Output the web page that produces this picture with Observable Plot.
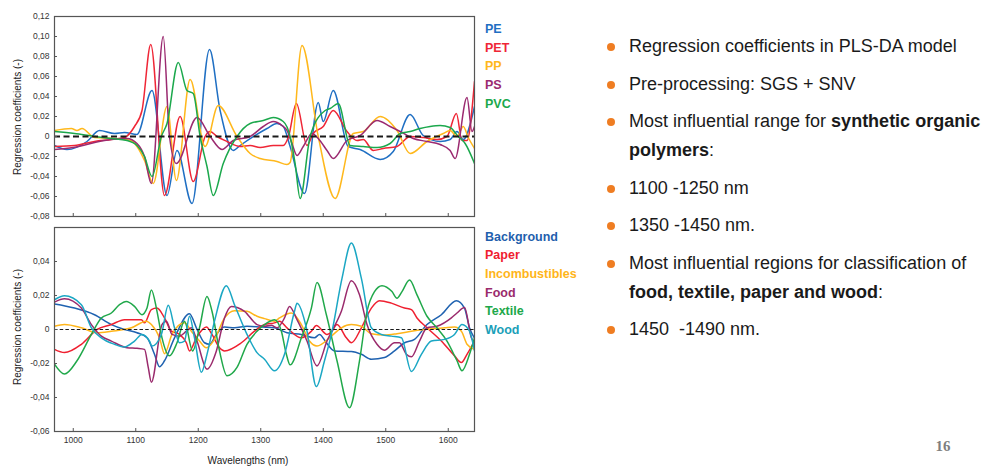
<!DOCTYPE html>
<html>
<head>
<meta charset="utf-8">
<script src="https://cdn.jsdelivr.net/npm/d3@7"></script>
<script src="https://cdn.jsdelivr.net/npm/@observablehq/plot@0.6"></script>
<style>
  html, body { margin: 0; padding: 0; background: #fff; }
  #wrap { position: relative; width: 990px; height: 467px; background: #fff; overflow: hidden; font-family: "Liberation Sans", Arial, sans-serif; }
  .panel { position: absolute; left: 0; }
  .ytitle { position: absolute; left: 17px; transform: translate(-50%, -50%) rotate(-90deg); white-space: nowrap; font-size: 10px; color: #222; }
  .xtitle { position: absolute; left: 248px; top: 460px; transform: translate(-50%, -50%); white-space: nowrap; font-size: 10px; color: #222; }
  .legend { position: absolute; left: 485px; font-weight: bold; font-size: 12.5px; line-height: 18.7px; white-space: nowrap; }
  #bullets { position: absolute; left: 629px; top: 32px; font-size: 18px; color: #1a1a1a; line-height: 29px; }
  #bullets div { position: relative; margin-bottom: 8.5px; white-space: nowrap; }
  #bullets div::before { content: ""; position: absolute; left: -22px; top: 11px; width: 8px; height: 8px; border-radius: 50%; background: #ef7d22; }
  #page { position: absolute; left: 943px; top: 446px; transform: translate(-50%, -50%); font-family: "Liberation Serif", "DejaVu Serif", serif; font-weight: bold; font-size: 15px; color: #7f7f7f; }
</style>
</head>
<body>
<div id="wrap">
  <div id="top" class="panel" style="top:0px"></div>
  <div id="bot" class="panel" style="top:211px"></div>
  <div class="ytitle" style="top:117px">Regression coefficients (-)</div>
  <div class="ytitle" style="top:327px">Regression coefficients (-)</div>
  <div class="xtitle">Wavelengths (nm)</div>
  <div id="legTop" class="legend" style="top:20px"></div>
  <div id="legBot" class="legend" style="top:227.5px"></div>
  <div id="bullets"></div>
  <div id="page"></div>
</div>
<script>
// ---------- x axis ----------
const xDomain = [970, 1642];
const xTicks = [1000, 1100, 1200, 1300, 1400, 1500, 1600];
const xTickLabels = ["1000", "1100", "1200", "1300", "1400", "1500", "1600"];
const xTitle = "Wavelengths (nm)";

// ---------- top panel: synthetic polymers ----------
const topNames = ["PE", "PET", "PP", "PS", "PVC"];
const topColors = ["#1f6fc3", "#ef2636", "#ffb81c", "#9b2a70", "#1ba84c"];
const topTicks = [-0.08, -0.06, -0.04, -0.02, 0, 0.02, 0.04, 0.06, 0.08, 0.10, 0.12];
const topTickLabels = ["-0,08", "-0,06", "-0,04", "-0,02", "0", "0,02", "0,04", "0,06", "0,08", "0,10", "0,12"];

const PE = [[970,-0.009],[990,-0.013],[1022,-0.005],[1042,0.006],[1066,0.003],[1082,0.004],[1102,0.002],[1126,0.046],[1150,-0.059],[1166,-0.014],[1190,-0.067],[1218,0.087],[1235,0.026],[1256,-0.014],[1267,-0.009],[1310,0.008],[1326,0.013],[1336,0.010],[1347,-0.010],[1370,-0.057],[1392,0.034],[1400,0.015],[1416,0.046],[1440,-0.010],[1459,-0.013],[1491,-0.023],[1512,-0.015],[1539,0.022],[1560,0.001],[1587,-0.005],[1603,-0.003],[1614,0.005],[1624,-0.003],[1642,0.030]];
const PET = [[970,-0.010],[1002,-0.009],[1034,-0.005],[1061,-0.003],[1082,-0.001],[1098,0.010],[1110,0.026],[1124,0.092],[1146,-0.059],[1171,0.020],[1192,-0.045],[1211,0],[1219,0.005],[1230,0],[1246,-0.005],[1267,-0.010],[1283,-0.009],[1299,-0.011],[1320,-0.009],[1336,-0.009],[1344,-0.001],[1357,0.033],[1374,-0.009],[1384,0.003],[1400,0.010],[1416,0.026],[1438,0.005],[1454,-0.004],[1464,-0.003],[1480,-0.014],[1496,-0.012],[1518,-0.010],[1539,0],[1560,-0.001],[1582,-0.003],[1598,0],[1613,0.023],[1622,-0.004],[1630,-0.004],[1642,0.055]];
const PP = [[970,0.006],[997,0.008],[1006,0.006],[1014,0.008],[1034,-0.001],[1066,-0.002],[1093,-0.004],[1102,-0.010],[1114,-0.024],[1128,-0.047],[1150,0.030],[1165,-0.044],[1187,0.057],[1211,-0.010],[1232,0.031],[1262,0],[1283,-0.017],[1299,-0.022],[1326,-0.025],[1342,-0.028],[1347,-0.026],[1366,0.091],[1392,0],[1419,-0.062],[1448,0.003],[1464,0.005],[1491,0.020],[1518,0.006],[1539,-0.017],[1566,-0.005],[1592,0.003],[1603,0.006],[1614,0],[1624,0.010],[1632,-0.001],[1642,-0.012]];
const PS = [[970,-0.013],[1000,-0.011],[1050,-0.004],[1086,-0.002],[1102,-0.007],[1114,-0.020],[1125,-0.047],[1144,0.100],[1154,0],[1165,-0.027],[1198,0.019],[1219,0],[1238,-0.013],[1256,-0.004],[1283,0],[1304,0.010],[1320,0.015],[1334,0.011],[1342,0.006],[1350,-0.007],[1358,-0.019],[1368,-0.010],[1382,0.003],[1392,-0.002],[1406,-0.014],[1416,-0.022],[1438,-0.004],[1459,0.001],[1486,0.016],[1507,0.010],[1523,0.005],[1544,-0.002],[1566,-0.005],[1587,-0.008],[1603,-0.014],[1611,-0.022],[1630,0.039],[1638,0.005],[1642,0.010]];
const PVC = [[970,0.005],[1002,0.003],[1034,0],[1061,-0.002],[1086,-0.004],[1102,-0.009],[1114,-0.020],[1126,-0.040],[1141,0],[1150,0.013],[1168,0.074],[1182,0.046],[1192,0.043],[1203,0],[1214,-0.030],[1224,-0.059],[1240,-0.027],[1262,0],[1283,0.013],[1304,0.016],[1320,0.019],[1336,0.015],[1347,0],[1355,-0.027],[1363,-0.062],[1379,0],[1403,0.026],[1411,0.028],[1424,0.033],[1443,-0.009],[1464,-0.010],[1486,-0.011],[1507,-0.007],[1523,0.003],[1539,0.005],[1555,0.008],[1571,0.010],[1587,0.011],[1603,0.009],[1616,0],[1627,-0.007],[1642,-0.027]];

// ---------- bottom panel: other waste classes ----------
const botNames = ["Background", "Paper", "Incombustibles", "Food", "Textile", "Wood"];
const botColors = ["#1f62b0", "#ef2030", "#ffb51a", "#9a2a6c", "#20a84a", "#1ba7c4"];
const botTicks = [-0.06, -0.04, -0.02, 0, 0.02, 0.04];
const botTickLabels = ["-0,06", "-0,04", "-0,02", "0", "0,02", "0,04"];

const Background = [[970,0.015],[1002,0.0126],[1034,0.0087],[1061,0.0029],[1082,0],[1102,-0.0019],[1118,-0.0049],[1130,-0.0146],[1138,-0.0219],[1146,-0.0184],[1162,-0.0049],[1186,0.0093],[1197,0.001],[1210,-0.0078],[1218,-0.0087],[1229,-0.0029],[1242,0.0014],[1258,0.001],[1278,0.0019],[1301,0.0014],[1322,0.001],[1342,-0.0019],[1365,-0.0029],[1386,-0.0049],[1394,-0.0029],[1405,-0.0078],[1418,-0.0126],[1445,-0.013],[1461,-0.0146],[1477,-0.0175],[1498,-0.0165],[1514,-0.0126],[1530,-0.0078],[1546,-0.0058],[1566,0.0029],[1589,0.0087],[1613,0.0169],[1626,0.0126],[1634,0.001],[1642,-0.005]];
const Paper = [[970,-0.0117],[986,-0.0136],[1013,-0.0087],[1038,0],[1061,0.0029],[1082,0.0058],[1109,0.0058],[1114,0.0039],[1125,0.0117],[1134,0.0126],[1146,0.0068],[1157,-0.001],[1170,-0.0029],[1181,-0.0078],[1186,-0.0126],[1197,-0.0049],[1213,0.0014],[1222,-0.0029],[1234,-0.0107],[1242,-0.0126],[1269,-0.0078],[1290,-0.001],[1306,0.0029],[1322,0.0039],[1330,0.0049],[1342,0.001],[1365,-0.0049],[1381,-0.001],[1389,0.0023],[1406,-0.0029],[1414,-0.001],[1422,0.0029],[1437,-0.0049],[1445,-0.0078],[1461,0.001],[1477,0.0126],[1490,0.0169],[1509,0.0155],[1530,0.0126],[1541,0.0117],[1550,0.0068],[1566,0.001],[1589,-0.0068],[1610,-0.0155],[1621,-0.0194],[1630,-0.0146],[1642,-0.0068]];
const Incombustibles = [[970,0.0019],[986,0.0029],[1013,0.001],[1038,-0.0019],[1061,-0.001],[1093,0.001],[1117,0.0049],[1125,0.0029],[1138,-0.0049],[1146,-0.0142],[1158,-0.0029],[1178,0.0039],[1189,-0.001],[1202,-0.0068],[1213,-0.0107],[1226,-0.0058],[1242,0.0068],[1258,0.0111],[1278,0.0107],[1294,0.0078],[1306,0.0064],[1322,0.0049],[1330,0.0068],[1349,0.0097],[1365,0.0029],[1378,-0.0068],[1390,-0.0097],[1413,-0.0039],[1429,0.001],[1445,0.0029],[1461,0.0019],[1477,-0.0025],[1498,-0.0033],[1518,-0.0025],[1541,-0.001],[1562,0],[1594,0.001],[1610,0.0014],[1621,-0.001],[1630,-0.0087],[1642,-0.0117]];
const Food = [[970,0.0161],[986,0.0181],[1013,0.0126],[1029,0.0029],[1045,-0.0039],[1061,-0.0068],[1086,-0.0107],[1102,-0.0111],[1114,-0.0117],[1120,-0.0223],[1125,-0.031],[1142,0.0029],[1149,0.0049],[1158,-0.0029],[1170,-0.0039],[1181,-0.001],[1189,0.001],[1198,-0.0068],[1214,-0.0233],[1229,-0.0126],[1242,0.0068],[1253,0.0136],[1274,0.0107],[1294,0.0029],[1306,0.0019],[1317,0.0025],[1326,0.001],[1338,0.0068],[1346,0.0136],[1358,0.0058],[1374,-0.0068],[1390,-0.0214],[1406,-0.0068],[1429,0.0107],[1445,0.0287],[1458,0.0204],[1470,0.0029],[1486,-0.0087],[1498,-0.0122],[1514,-0.0078],[1522,-0.0078],[1533,-0.0146],[1541,-0.0161],[1554,-0.0068],[1566,0.001],[1582,0.0019],[1605,0.0068],[1614,0.0097],[1626,0.013],[1637,-0.0049],[1642,-0.0078]];
const Textile = [[970,-0.0204],[986,-0.0262],[1006,-0.0184],[1029,-0.0029],[1045,0.0068],[1061,0.0097],[1074,0.0146],[1085,0.0165],[1098,0.0136],[1110,0.0087],[1118,0.0126],[1125,0.0233],[1134,0.0107],[1142,-0.0049],[1154,-0.0155],[1166,-0.0078],[1178,0.0049],[1191,-0.0126],[1202,0.001],[1214,0.0194],[1222,0.0107],[1234,-0.0126],[1246,-0.0272],[1262,-0.0223],[1278,-0.0087],[1294,-0.001],[1310,0.0039],[1322,0.0058],[1333,-0.001],[1341,-0.0146],[1347,-0.0208],[1365,-0.0049],[1381,0.0126],[1390,0.0276],[1405,0.0087],[1422,-0.0184],[1442,-0.046],[1458,-0.0184],[1470,0.0107],[1482,0.0223],[1494,0.0258],[1510,0.0223],[1518,0.0184],[1526,0.0223],[1538,0.0291],[1550,0.0204],[1566,0.0078],[1582,0.001],[1598,-0.0068],[1614,-0.0184],[1622,-0.0243],[1634,-0.0146],[1642,-0.0049]];
const Wood = [[970,0.0175],[986,0.0198],[1013,0.0146],[1029,0.001],[1045,-0.0049],[1066,-0.0087],[1082,-0.0103],[1098,-0.0068],[1110,-0.0029],[1122,-0.0068],[1126,-0.0097],[1141,-0.0029],[1152,0.0142],[1162,0.001],[1170,-0.0078],[1178,-0.0068],[1186,0.0078],[1194,-0.0049],[1205,-0.0252],[1214,-0.0146],[1226,0.0049],[1245,0.0258],[1258,0.0146],[1278,-0.0029],[1294,-0.0136],[1306,-0.0175],[1322,-0.0243],[1338,-0.0146],[1354,0.0107],[1358,0.0155],[1373,0.001],[1389,-0.0336],[1402,-0.0184],[1413,-0.0029],[1430,0.0301],[1445,0.0509],[1461,0.0301],[1477,0.001],[1493,-0.0029],[1509,-0.0039],[1525,-0.0049],[1541,-0.0247],[1557,-0.0146],[1573,-0.0068],[1594,-0.0058],[1610,-0.0029],[1622,0.0029],[1634,-0.001],[1642,-0.0126]];

const yTitle = "Regression coefficients (-)";

// ---------- slide text ----------
const bulletItems = [
  "Regression coefficients in PLS-DA model",
  "Pre-processing: SGS + SNV",
  "Most influential range for <b>synthetic organic</b><br><b>polymers</b>:",
  "1100 -1250 nm",
  "1350 -1450 nm.",
  "Most influential regions for classification of<br><b>food, textile, paper and wood</b>:",
  "1450 &nbsp;-1490 nm."
];
const pageNumber = "16";

// ---------- build ----------
const fontFamily = "'Liberation Sans', Arial, sans-serif";

function panel(series, names, colors, yDomain, yTicks, yLabels, height, marginBottom, showXLabels, dash) {
  const data = series.flatMap((s, k) => s.map(([wl, v]) => ({wl, v, name: names[k]})));
  return Plot.plot({
    width: 480,
    height,
    marginLeft: 54,
    marginRight: 6,
    marginTop: 16,
    marginBottom,
    style: {fontFamily, fontSize: "8.5px", color: "#333", background: "transparent", overflow: "visible"},
    x: {domain: xDomain, axis: null},
    y: {domain: yDomain, axis: null},
    color: {domain: names, range: colors},
    marks: [
      Plot.lineY(data, {x: "wl", y: "v", z: "name", stroke: "name", strokeWidth: 1.5, curve: "monotone-x", clip: true}),
      Plot.ruleY([0], {stroke: "#1a1a1a", strokeWidth: dash.w, strokeDasharray: dash.d}),
      Plot.frame({stroke: "#555", strokeWidth: 1.2}),
      Plot.axisY(yTicks, {tickSize: -3, tickPadding: 8, stroke: "#555", label: null,
        tickFormat: d => yLabels[yTicks.indexOf(d)]}),
      Plot.axisX(xTicks, {tickSize: -3, tickPadding: 8, stroke: "#555", label: null,
        fill: showXLabels ? "#333" : "none",
        tickFormat: d => xTickLabels[xTicks.indexOf(d)]})
    ]
  });
}

document.getElementById("top").append(
  panel([PE, PET, PP, PS, PVC], topNames, topColors, [-0.08, 0.12], topTicks, topTickLabels, 222, 6, false, {w: 2, d: "6,3.5"})
);
document.getElementById("bot").append(
  panel([Background, Paper, Incombustibles, Food, Textile, Wood], botNames, botColors, [-0.06, 0.06], botTicks, botTickLabels, 256, 36, true, {w: 1.1, d: "3.5,2.2"})
);

function legend(id, names, colors) {
  const el = document.getElementById(id);
  names.forEach((n, i) => {
    const d = document.createElement("div");
    d.textContent = n;
    d.style.color = colors[i];
    el.append(d);
  });
}
legend("legTop", topNames, topColors);
legend("legBot", botNames, ["#1f5fad", "#ef2030", "#ffb51a", "#9a2a6c", "#20a84a", "#1a9fb8"]);

document.querySelectorAll(".ytitle").forEach(e => e.textContent = yTitle);
document.querySelector(".xtitle").textContent = xTitle;

const bl = document.getElementById("bullets");
bulletItems.forEach(t => {
  const d = document.createElement("div");
  d.innerHTML = t;
  bl.append(d);
});
document.getElementById("page").textContent = pageNumber;
</script>
</body>
</html>
